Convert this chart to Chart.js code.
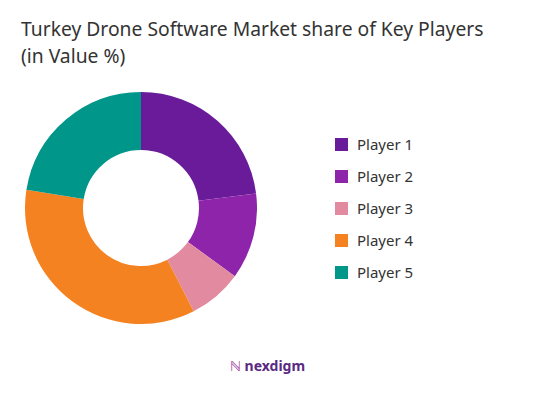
<!DOCTYPE html>
<html>
<head>
<meta charset="utf-8">
<script src="https://cdn.jsdelivr.net/npm/chart.js@4"></script>
<style>
  body { margin: 0; width: 535px; height: 400px; background: #fff; font-family: "Noto Sans", sans-serif; position: relative; overflow: hidden; }
  #title { position: absolute; left: 21px; top: 15px; font-size: 19.3px; line-height: 27px; color: #333; }
  #wrap { position: absolute; left: 25px; top: 92px; width: 232px; height: 232px; }
  #legend { position: absolute; left: 335px; top: 128px; }
  .item { display: flex; align-items: center; height: 32px; font-size: 15px; color: #333; }
  .box { width: 13px; height: 13px; margin-right: 9px; }
  #logo { position: absolute; left: 230px; top: 356px; font-size: 14px; color: #5a2a82; font-weight: bold; }
</style>
</head>
<body>
<div id="title">Turkey Drone Software Market share of Key Players<br>(in Value %)</div>
<div id="wrap"><canvas id="c"></canvas></div>
<div id="legend"></div>
<div id="logo"><span style="color:#a64ca6">ℕ</span> nexdigm</div>
<script>
const players = ['Player 1', 'Player 2', 'Player 3', 'Player 4', 'Player 5'];
const shares = [23, 12, 7.5, 35, 22.5];
const colors = ['#6a1b9a', '#8e24aa', '#e28aa0', '#f58220', '#00968a'];

const legend = document.getElementById('legend');
players.forEach((p, i) => {
    legend.innerHTML += '<div class="item"><div class="box" style="background:' + colors[i] + '"></div>' + p + '</div>';
});

new Chart(document.getElementById('c'), {
    type: 'doughnut',
    data: {
        labels: players,
        datasets: [{ data: shares, backgroundColor: colors, borderWidth: 0 }]
    },
    options: {
        responsive: true,
        maintainAspectRatio: false,
        animation: false,
        cutout: '50%',
        plugins: { legend: { display: false }, tooltip: { enabled: false } }
    }
});
</script>
</body>
</html>
